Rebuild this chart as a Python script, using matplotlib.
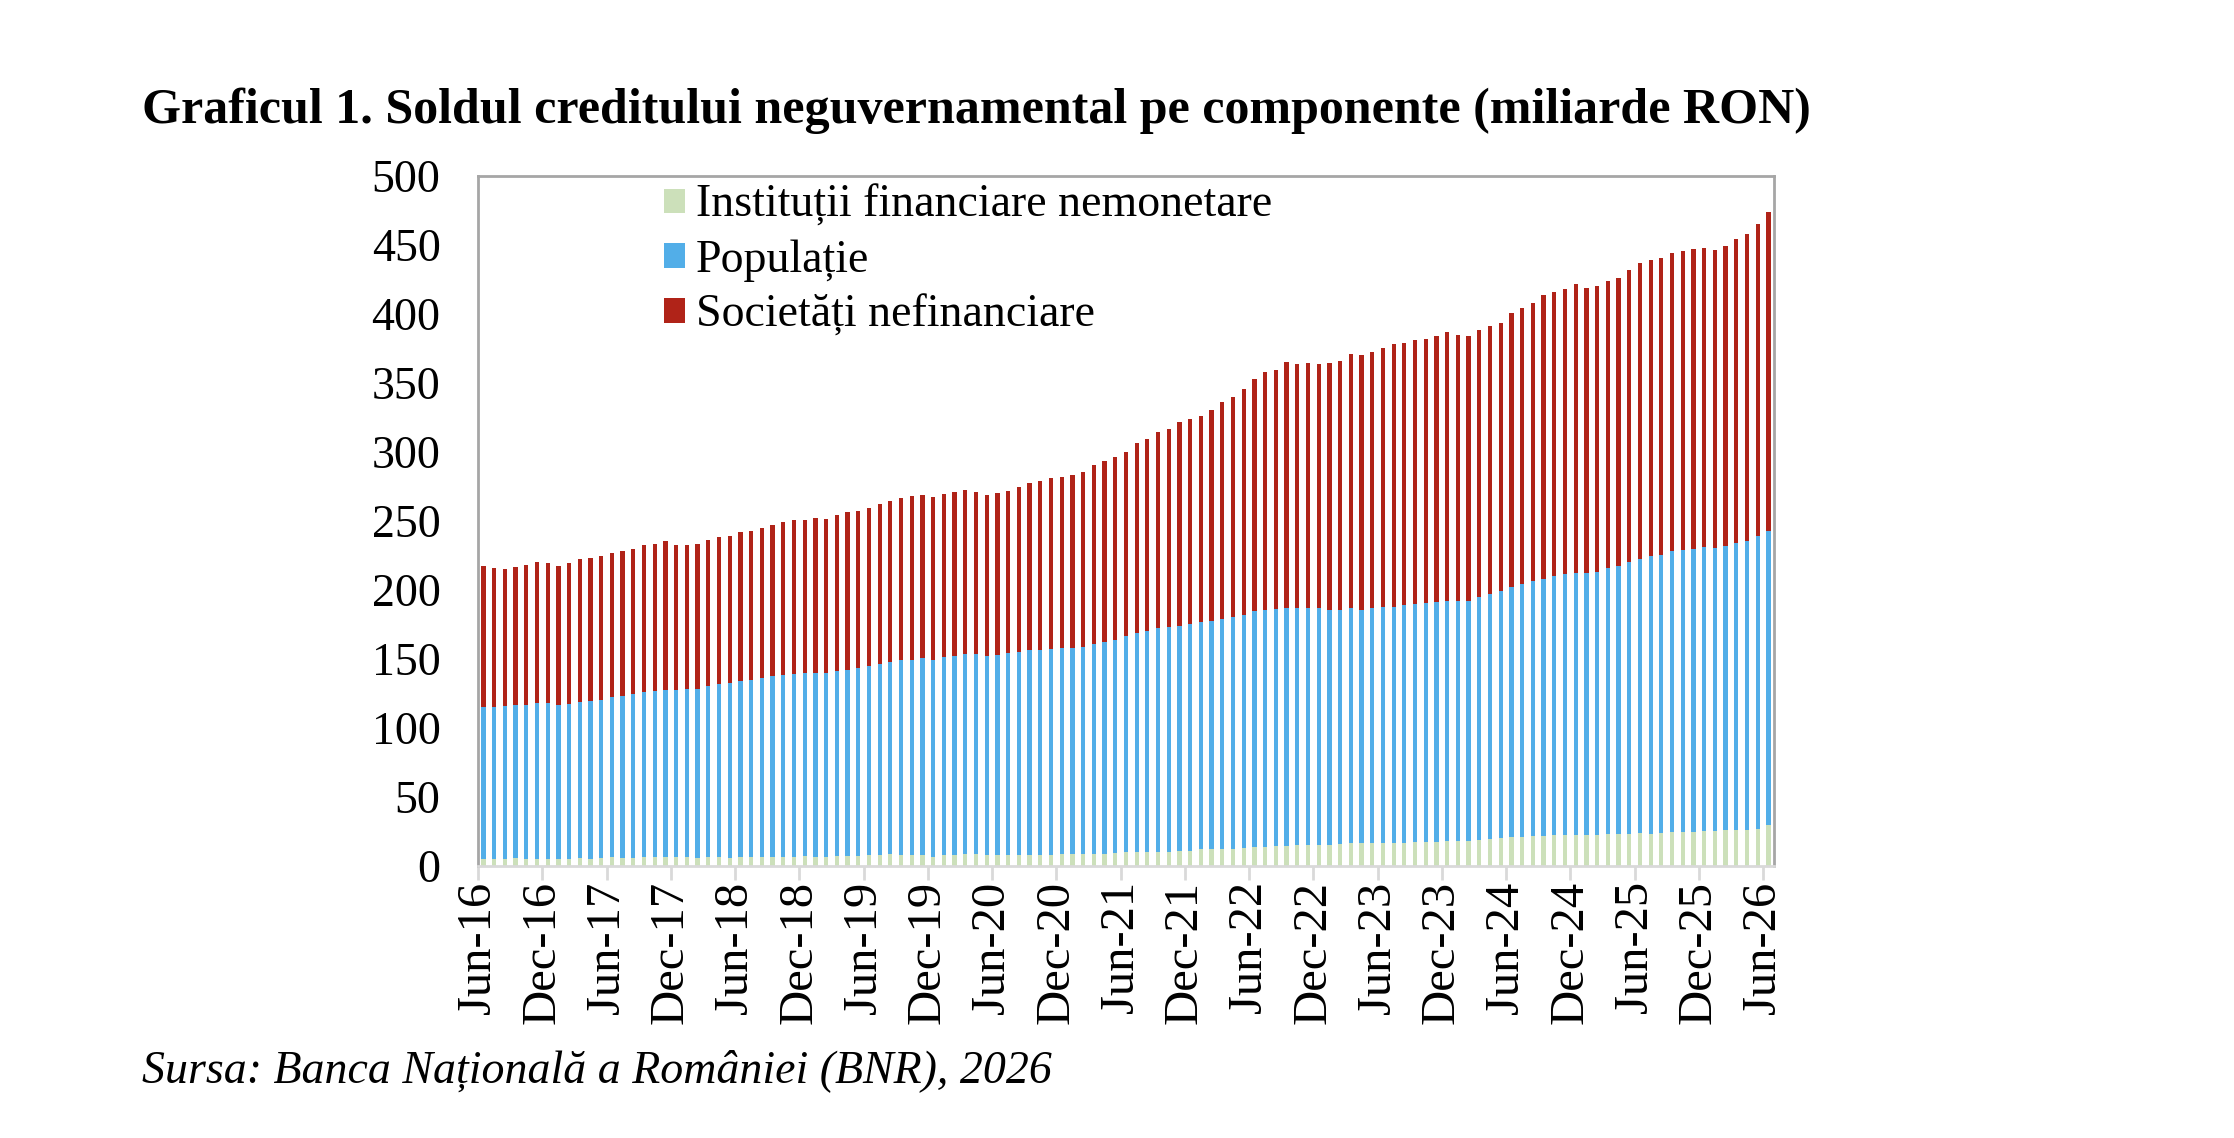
import numpy as np
import matplotlib
matplotlib.use("Agg")
import matplotlib.pyplot as plt
from matplotlib.patches import Patch

plt.rcParams['font.family'] = ['Liberation Serif', 'DejaVu Serif']

# monthly data, Jun-16 .. Jun-26 (miliarde RON)
months = ["Jun", "Jul", "Aug", "Sep", "Oct", "Nov", "Dec", "Jan", "Feb", "Mar", "Apr", "May"]
start_year = 16
n_months = 121

ifn = [4.8, 4.8, 4.8, 5.6, 4.8, 4.8, 4.8, 4.8, 4.8, 5.6,
       4.8, 5.6, 6.3, 5.6, 5.6, 6.3, 6.3, 6.3, 6.3, 6.3,
       5.6, 6.3, 6.3, 5.6, 6.3, 6.3, 6.3, 6.3, 6.3, 6.3,
       7.0, 6.3, 6.3, 7.0, 7.0, 7.0, 8.0, 8.0, 8.5, 8.0,
       8.0, 8.0, 6.3, 8.0, 8.0, 8.5, 8.5, 8.0, 8.0, 8.0,
       8.0, 8.0, 8.0, 8.0, 8.5, 8.5, 8.5, 8.5, 8.5, 9.2,
       9.9, 9.9, 9.9, 9.9, 9.9, 10.6, 10.6, 12.1, 12.1, 12.1,
       12.1, 12.8, 13.5, 13.5, 14.3, 14.3, 15.0, 15.0, 15.0, 15.0,
       15.7, 16.4, 16.4, 16.4, 16.4, 16.4, 16.4, 17.1, 17.1, 17.1,
       17.9, 17.9, 17.9, 18.6, 19.3, 20.0, 20.8, 20.8, 21.5, 21.5,
       22.2, 22.2, 22.2, 22.2, 22.2, 22.9, 22.9, 22.9, 23.7, 22.9,
       23.7, 24.4, 24.4, 24.4, 25.1, 25.1, 25.8, 25.8, 25.8, 26.6,
       29.5]

populatie = [110.4, 110.4, 111.1, 111.1, 111.9, 113.3, 113.3, 111.9, 112.6, 113.2,
             114.8, 114.7, 116.2, 117.6, 119.0, 119.8, 120.5, 121.2, 121.2, 122.0,
             122.7, 124.1, 125.6, 127.0, 127.8, 128.5, 129.9, 131.4, 132.1, 132.8,
             132.9, 133.6, 133.6, 134.3, 135.0, 136.5, 136.9, 138.4, 139.3, 141.3,
             141.3, 142.7, 143.0, 143.4, 144.2, 145.1, 145.1, 144.2, 144.9, 146.3,
             147.1, 148.5, 148.5, 149.2, 149.5, 149.5, 150.2, 152.4, 153.8, 154.6,
             156.8, 158.9, 160.4, 162.6, 163.3, 163.3, 164.8, 164.7, 165.4, 166.9,
             168.3, 169.1, 171.3, 172.0, 171.9, 172.7, 172.0, 172.0, 172.0, 170.5,
             169.8, 170.6, 169.1, 170.6, 171.3, 171.3, 172.7, 172.8, 173.5, 174.2,
             174.1, 174.1, 174.1, 176.3, 177.8, 179.3, 181.4, 183.5, 185.0, 186.5,
             187.9, 189.4, 190.1, 190.1, 190.8, 193.0, 194.5, 197.4, 198.8, 201.7,
             201.7, 203.9, 204.6, 205.3, 206.1, 205.3, 206.1, 208.3, 209.7, 212.5,
             213.3]

societati = [102.2, 100.7, 99.3, 100.0, 101.4, 102.2, 101.5, 100.7, 102.2, 103.7,
             103.6, 104.3, 104.3, 105.1, 105.1, 106.5, 106.5, 108.0, 105.1, 104.3,
             105.0, 105.8, 106.5, 106.5, 107.9, 108.0, 108.8, 109.4, 110.9, 111.6,
             110.8, 112.3, 111.5, 113.0, 114.5, 113.7, 114.5, 115.9, 116.7, 117.4,
             118.8, 118.1, 118.1, 118.2, 118.8, 118.9, 117.4, 116.6, 117.4, 117.4,
             119.5, 121.0, 122.5, 124.0, 123.9, 125.3, 126.8, 129.7, 131.2, 132.6,
             133.3, 137.7, 139.1, 142.0, 143.5, 147.8, 148.5, 149.3, 152.9, 157.2,
             159.5, 163.8, 168.1, 172.5, 173.2, 178.2, 176.8, 177.5, 176.8, 179.0,
             180.4, 184.0, 184.8, 185.5, 187.7, 190.6, 189.9, 191.3, 191.3, 192.8,
             195.0, 192.8, 192.1, 193.5, 194.2, 194.2, 198.5, 200.0, 201.5, 205.8,
             205.8, 206.5, 209.4, 206.5, 207.3, 208.0, 208.7, 211.6, 214.5, 214.5,
             215.2, 215.9, 216.7, 217.4, 216.6, 216.0, 217.4, 220.2, 222.5, 226.1,
             231.1]

labels = ["Instituții financiare nemonetare", "Populație", "Societăți nefinanciare"]
colors = ["#CCE0BA", "#52AEE8", "#B02318"]

ifn = np.array(ifn)
populatie = np.array(populatie)
societati = np.array(societati)

x = np.arange(n_months)
month_names = [months[i % 12] + "-" + str(start_year + (i + 5) // 12) for i in range(n_months)]

fig = plt.figure(figsize=(22.34, 11.38), dpi=100)
ax = fig.add_axes([0.214, 0.239, 0.58, 0.6064])

w = 0.4
ax.bar(x, ifn, width=w, color=colors[0])
ax.bar(x, populatie, width=w, bottom=ifn, color=colors[1])
ax.bar(x, societati, width=w, bottom=ifn + populatie, color=colors[2])

ax.set_xlim(-0.5, n_months - 0.5)
ax.set_ylim(0, 500)
ax.set_yticks(np.arange(0, 501, 50))
ax.tick_params(axis='y', length=0, pad=27, labelsize=33)

tick_pos = x[::6]
ax.set_xticks(tick_pos - 0.5)
ax.set_xticklabels([month_names[i] for i in tick_pos], rotation=90, fontsize=35)
ax.tick_params(axis='x', length=10, width=2, color="#D9D9D9", pad=1)

for side in ["left", "top", "right"]:
    ax.spines[side].set_color("#A6A6A6")
    ax.spines[side].set_linewidth(2)
ax.spines["bottom"].set_color("#D9D9D9")
ax.spines["bottom"].set_linewidth(2)

handles = [Patch(facecolor=c, edgecolor='none') for c in colors]
ax.legend(handles, labels, loc="upper left", bbox_to_anchor=(0.119, 1.034),
          frameon=False, fontsize=33, handlelength=0.44, handleheight=0.44,
          handletextpad=0.25, labelspacing=0.27, borderpad=0.2)

fig.text(142 / 2234, 1 - 111 / 1138,
         "Graficul 1. Soldul creditului neguvernamental pe componente (miliarde RON)",
         fontsize=36, fontweight="bold", va="center", ha="left")
fig.text(142 / 2234, 1 - 1071 / 1138,
         "Sursa: Banca Națională a României (BNR), 2026",
         fontsize=33, fontstyle="italic", va="center", ha="left")

fig.savefig("out.png", dpi=100)
